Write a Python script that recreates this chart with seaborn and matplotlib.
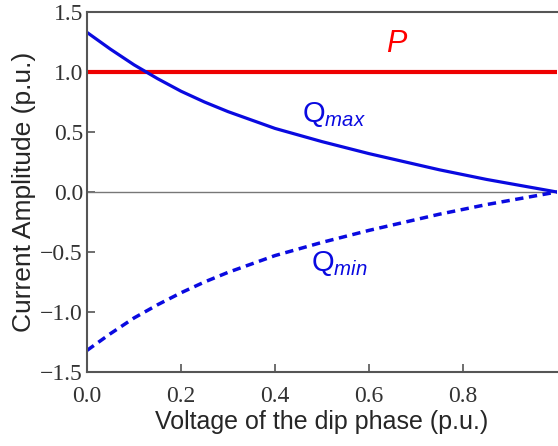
import pandas as pd
import matplotlib
matplotlib.use('Agg')
import matplotlib.pyplot as plt
import seaborn as sns

# 데이터
voltage = [0.0, 0.05, 0.1, 0.15, 0.2, 0.25, 0.3, 0.35, 0.4, 0.45, 0.5,
           0.55, 0.6, 0.65, 0.7, 0.75, 0.8, 0.85, 0.9, 0.95, 1.0]
q_max = [1.33, 1.19, 1.06, 0.945, 0.84, 0.75, 0.67, 0.60, 0.53, 0.475, 0.42,
         0.37, 0.32, 0.275, 0.23, 0.185, 0.145, 0.105, 0.07, 0.035, 0.0]
q_min = [-1.32, -1.18, -1.05, -0.94, -0.84, -0.75, -0.67, -0.60, -0.53, -0.475, -0.42,
         -0.37, -0.32, -0.275, -0.23, -0.185, -0.145, -0.105, -0.07, -0.035, 0.0]
p_value = [1.0, 1.0]
p_range = [0.0, 1.0]

x_ticks = [0.0, 0.2, 0.4, 0.6, 0.8]
y_ticks = [-1.5, -1.0, -0.5, 0.0, 0.5, 1.0, 1.5]

df = pd.DataFrame({'v': voltage, 'qmax': q_max, 'qmin': q_min})
df_p = pd.DataFrame({'v': p_range, 'p': p_value})

sns.set_style('ticks')
plt.rcParams['font.family'] = ['Liberation Sans', 'DejaVu Sans']
plt.rcParams['mathtext.fontset'] = 'custom'
plt.rcParams['mathtext.rm'] = 'Liberation Sans'
plt.rcParams['mathtext.it'] = 'Liberation Sans:italic'

fig = plt.figure(figsize=(5.58, 4.46), dpi=100)
ax = fig.add_axes([0.156, 0.166, 0.842, 0.807])

# 0 기준선
ax.axhline(0, color='#777777', lw=1.0, zorder=1)

sns.lineplot(data=df_p, x='v', y='p', ax=ax, color='#ee0000', lw=3.0)
sns.lineplot(data=df, x='v', y='qmax', ax=ax, color='#0a0ae0', lw=2.3)
line = sns.lineplot(data=df, x='v', y='qmin', ax=ax, color='#0a0ae0', lw=2.5).lines[-1]
line.set_dashes([2.4, 1.6])
line.set_dash_capstyle('butt')

ax.set_xlim(0, 1.0)
ax.set_ylim(-1.5, 1.5)
ax.set_xticks(x_ticks)
ax.set_yticks(y_ticks)
ax.set_xticklabels([f'{t:.1f}' for t in x_ticks], family='Liberation Serif', fontsize=17, color='#333333')
ax.set_yticklabels([f'{t:.1f}'.replace('-', '\u2212') for t in y_ticks],
                   family='Liberation Serif', fontsize=17, color='#333333')
ax.tick_params(direction='in', length=6, width=1.2, color='#555555')
ax.tick_params(axis='x', pad=10)
ax.tick_params(axis='y', pad=3)

for s in ['left', 'bottom', 'top']:
    ax.spines[s].set_color('#555555')
    ax.spines[s].set_linewidth(1.5)
ax.spines['right'].set_visible(False)

ax.set_xlabel('Voltage of the dip phase (p.u.)', fontsize=18, labelpad=2)
ax.set_ylabel('Current Amplitude (p.u.)', fontsize=19, labelpad=3)

# 곡선 이름 표시
ax.text(0.636, 1.17, 'P', color='#ff0000', fontsize=22, style='italic')
ax.text(0.458, 0.58, r'Q$_{\mathit{max}}$', color='#0a0ae0', fontsize=21)
ax.text(0.477, -0.66, r'Q$_{\mathit{min}}$', color='#0a0ae0', fontsize=21)

fig.savefig('out.png', dpi=100)
